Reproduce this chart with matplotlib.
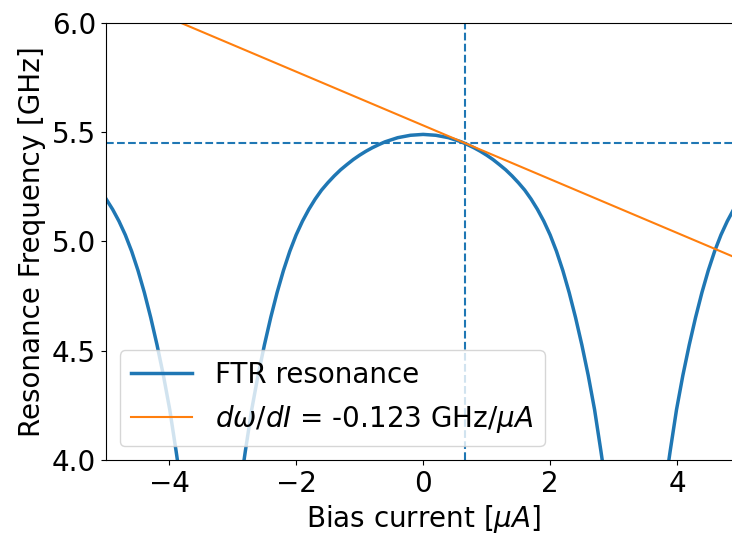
import matplotlib
matplotlib.use("Agg")
import matplotlib.pyplot as plt

plt.rcParams['font.size'] = 20

# FTR resonance vs bias current, three lobes (GHz vs uA)
left_I = [-5.0, -4.89, -4.79, -4.69, -4.59, -4.49, -4.39, -4.29, -4.19,
          -4.09, -3.99, -3.89, -3.87]
left_f = [5.198, 5.147, 5.093, 5.030, 4.955, 4.867, 4.766, 4.652, 4.526,
          4.387, 4.230, 4.040, 4.000]

mid_I = [-2.82, -2.8, -2.7, -2.6, -2.5, -2.4, -2.3, -2.2, -2.1, -2.0, -1.9,
         -1.8, -1.7, -1.6, -1.5, -1.4, -1.3, -1.2, -1.1, -1.0, -0.9, -0.8,
         -0.7, -0.6, -0.4, -0.2, 0.0, 0.2, 0.4, 0.6, 0.7, 0.8, 0.9, 1.0,
         1.1, 1.2, 1.3, 1.4, 1.5, 1.6, 1.7, 1.8, 1.9, 2.0, 2.1, 2.2, 2.3,
         2.4, 2.5, 2.6, 2.7, 2.8, 2.82]
mid_f = [4.000, 4.040, 4.230, 4.387, 4.526, 4.652, 4.766, 4.867, 4.955,
         5.030, 5.093, 5.147, 5.194, 5.235, 5.269, 5.300, 5.328, 5.352,
         5.375, 5.395, 5.413, 5.429, 5.443, 5.456, 5.475, 5.486, 5.490,
         5.486, 5.475, 5.456, 5.443, 5.429, 5.413, 5.395, 5.375, 5.352,
         5.328, 5.300, 5.269, 5.235, 5.194, 5.147, 5.093, 5.030, 4.955,
         4.867, 4.766, 4.652, 4.526, 4.387, 4.230, 4.040, 4.000]

right_I = [3.87, 3.89, 3.99, 4.09, 4.19, 4.29, 4.39, 4.49, 4.59, 4.69,
           4.79, 4.89, 5.0]
right_f = [4.000, 4.040, 4.230, 4.387, 4.526, 4.652, 4.766, 4.867, 4.955,
           5.030, 5.093, 5.147, 5.198]

# operating point and local slope
I_op = 0.66
f_op = 5.45
slope = -0.123  # GHz/uA

fig = plt.figure(figsize=(7.32, 5.34), dpi=100)
ax = fig.add_axes([0.1443, 0.1386, 0.8675, 0.8184])

ax.plot(mid_I, mid_f, color='C0', lw=2.5, label='FTR resonance')
ax.plot(left_I, left_f, color='C0', lw=2.5)
ax.plot(right_I, right_f, color='C0', lw=2.5)

ax.axvline(I_op, color='C0', ls='--', lw=1.5)
ax.axhline(f_op, color='C0', ls='--', lw=1.5)

ax.axline((I_op, f_op), slope=slope, color='C1', lw=1.5,
          label=rf'$d\omega/dI$ = {slope} GHz/$\mu A$')

ax.set_xlim(-5, 5)
ax.set_ylim(4.0, 6.0)
ax.set_xlabel(r'Bias current [$\mu A$]')
ax.set_ylabel('Resonance Frequency [GHz]')
ax.legend(loc='lower left', handlelength=2.2, handletextpad=0.85)

fig.savefig('out.png', dpi=100)
